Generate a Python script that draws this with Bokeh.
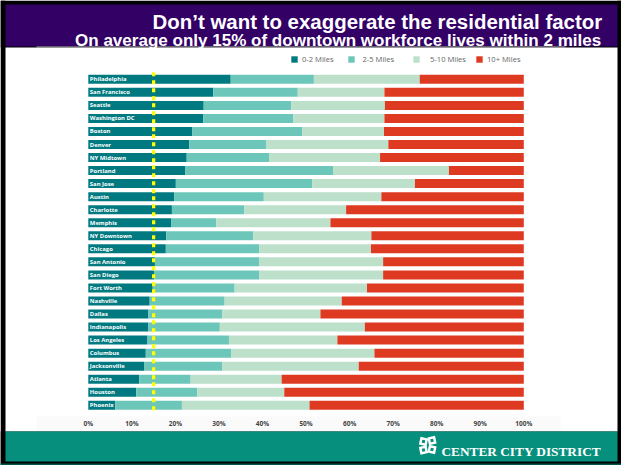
from bokeh.embed import file_html
from bokeh.resources import INLINE
from bokeh.plotting import figure
from bokeh.models import (BoxAnnotation, ColumnDataSource, FixedTicker, Label, Legend, LegendItem,
                          PrintfTickFormatter, PolyAnnotation, Range1d)
from bokeh.core.properties import value
import math

WIDTH, HEIGHT = 621, 465

title_line = "Don\u2019t want to exaggerate the residential factor"
subtitle_line = "On average only 15% of downtown workforce lives within 2 miles"
brand = "CENTER CITY DISTRICT"

cities = ["Philadelphia", "San Francisco", "Seattle", "Washington DC", "Boston", "Denver",
          "NY Midtown", "Portland", "San Jose", "Austin", "Charlotte", "Memphis",
          "NY Downtown", "Chicago", "San Antonio", "San Diego", "Fort Worth", "Nashville",
          "Dallas", "Indianapolis", "Los Angeles", "Columbus", "Jacksonville", "Atlanta",
          "Houston", "Phoenix"]

miles_0_2 = [32.7, 28.7, 26.5, 26.4, 23.9, 23.2, 22.6, 22.3, 20.1, 19.7, 19.2, 19.0, 17.9,
             17.8, 15.3, 15.1, 14.8, 14.1, 13.8, 13.8, 13.6, 13.2, 12.8, 11.7, 11.0, 6.2]
miles_2_5 = [19.1, 19.4, 20.1, 20.7, 25.2, 17.6, 18.9, 33.9, 31.3, 20.6, 16.6, 10.4, 20.0,
             21.5, 24.0, 24.2, 18.8, 17.2, 17.0, 16.4, 18.7, 19.6, 18.0, 11.8, 14.0, 15.3]
miles_5_10 = [24.3, 19.9, 21.5, 20.9, 18.8, 28.1, 25.5, 26.6, 23.6, 27.0, 23.4, 26.2, 27.1,
              25.6, 28.4, 28.4, 30.4, 26.9, 22.5, 33.3, 24.9, 32.9, 31.3, 20.9, 20.0, 29.3]
miles_10_up = [23.9, 32.0, 31.9, 32.0, 32.1, 31.1, 33.0, 17.2, 25.0, 32.7, 40.8, 44.4, 35.0,
               35.1, 32.3, 32.3, 36.0, 41.8, 46.7, 36.5, 42.8, 34.3, 37.9, 55.6, 55.0, 49.2]

bands = ["0-2 Miles", "2-5 Miles", "5-10 Miles", "10+ Miles"]
band_colors = ["#007a80", "#6cc6b9", "#bde0cb", "#de3a22"]
average_share = 15
percent_ticks = [0, 10, 20, 30, 40, 50, 60, 70, 80, 90, 100]

rows = list(range(len(cities)))
source = ColumnDataSource(dict(row=rows, city=cities, a=miles_0_2, b=miles_2_5,
                               c=miles_5_10, d=miles_10_up))

# The plot area fills the page; the ranges set the pixel scale of the bars.
PX_PER_PCT = 4.355
PX_PER_ROW = 13.04
ZERO_X = 87.8
FIRST_ROW_Y = 78.8
x_range = Range1d(-ZERO_X / PX_PER_PCT, (WIDTH - ZERO_X) / PX_PER_PCT)
y_range = Range1d((HEIGHT - FIRST_ROW_Y) / PX_PER_ROW, -FIRST_ROW_Y / PX_PER_ROW)

p = figure(width=WIDTH, height=HEIGHT, output_backend="svg", toolbar_location=None,
           x_range=x_range, y_range=y_range, min_border=0,
           background_fill_color="white", border_fill_color="white", outline_line_color=None)
p.grid.visible = False
p.yaxis.visible = False

xax = p.xaxis[0]
xax.fixed_location = 25.5
xax.ticker = FixedTicker(ticks=percent_ticks)
xax.formatter = PrintfTickFormatter(format="%d%%")
xax.axis_line_color = None
xax.major_tick_line_color = None
xax.minor_tick_line_color = None
xax.major_label_standoff = 1
xax.major_label_text_font = "Open Sans"
xax.major_label_text_font_style = "bold"
xax.major_label_text_font_size = "6.5px"
xax.major_label_text_color = "#444444"


def page_box(left, right, top, bottom, color):
    """Filled rectangle given in page pixels measured from the top-left corner."""
    p.add_layout(BoxAnnotation(left=left, right=right, top=HEIGHT - top, bottom=HEIGHT - bottom,
                               left_units="screen", right_units="screen",
                               top_units="screen", bottom_units="screen",
                               fill_color=color, fill_alpha=1, line_color=None, level="underlay"))


def page_label(x, y, text, font, size, style="bold", color="white"):
    p.add_layout(Label(x=x, y=HEIGHT - y, x_units="screen", y_units="screen", text=text,
                       text_font=font, text_font_size=size, text_font_style=style,
                       text_color=color, text_baseline="alphabetic"))


# Slide frame: black edge, purple header, teal footer
page_box(36, 560, 416, 431, "#fafafa")
page_box(0, WIDTH, 0, 47, "#000000")
page_box(0, 5, 0, HEIGHT, "#000000")
page_box(617, WIDTH, 0, HEIGHT, "#000000")
page_box(5, 617, 4, 46, "#330066")
page_box(36, 565, 46, 47, "#b8b8b8")
page_box(0, WIDTH, 431, HEIGHT, "#000000")
page_box(5, 617, 431, 461, "#078f7d")
page_box(0, WIDTH, 463, HEIGHT, "#05564c")

page_label(152, 21, title_line, "Liberation Sans", "20.45px")
page_label(74.5, 40, subtitle_line, "Liberation Sans", "17.05px")
page_label(441, 451, brand, "Liberation Serif", "13.3px")

# Four tilted squares forming the logo mark
for cx, cy, tilt in [(423, 441, 12), (431.5, 440, -12), (423, 449.5, -12), (431.5, 449, 12)]:
    for half, fill in [(3.9, "white"), (1.5, "#078f7d")]:
        xs, ys = [], []
        for k in range(4):
            a = math.radians(tilt + 45 + 90 * k)
            xs.append(cx + half * math.sqrt(2) * math.cos(a))
            ys.append(HEIGHT - (cy + half * math.sqrt(2) * math.sin(a)))
        p.add_layout(PolyAnnotation(xs=xs, ys=ys, xs_units="screen", ys_units="screen",
                                    fill_color=fill, fill_alpha=1, line_color=None))

stack = p.hbar_stack(["a", "b", "c", "d"], y="row", height=0.69, color=band_colors,
                     source=source, line_color=None)

p.text(x=[0.35] * len(cities), y=rows, text=cities, text_font=value("Open Sans"),
       text_font_style="bold", text_font_size="5.9px", text_color="white",
       text_baseline="middle", text_align="left")

# Dashed marker at the average share living within two miles
p.segment(x0=[average_share], y0=[-0.55], x1=[average_share], y1=[25.4], line_color="#ffff00",
          line_width=3.3, line_dash="4 4 4 4 4 4 4 3")

# One legend per band, since the entries sit at uneven intervals
for band, renderer, left, standoff in zip(bands, stack, [290, 346.5, 412, 475], [4, 8, 10, 4]):
    p.add_layout(Legend(items=[LegendItem(label=band, renderers=[renderer])],
                        location=(left, HEIGHT - 64), background_fill_alpha=0,
                        border_line_color=None, padding=0, margin=0, glyph_width=8,
                        glyph_height=8, label_standoff=standoff, label_height=8,
                        label_text_font="Open Sans", label_text_font_size="7.6px",
                        label_text_color="#666666"))

open("out.html", "w").write(file_html(p, INLINE))
